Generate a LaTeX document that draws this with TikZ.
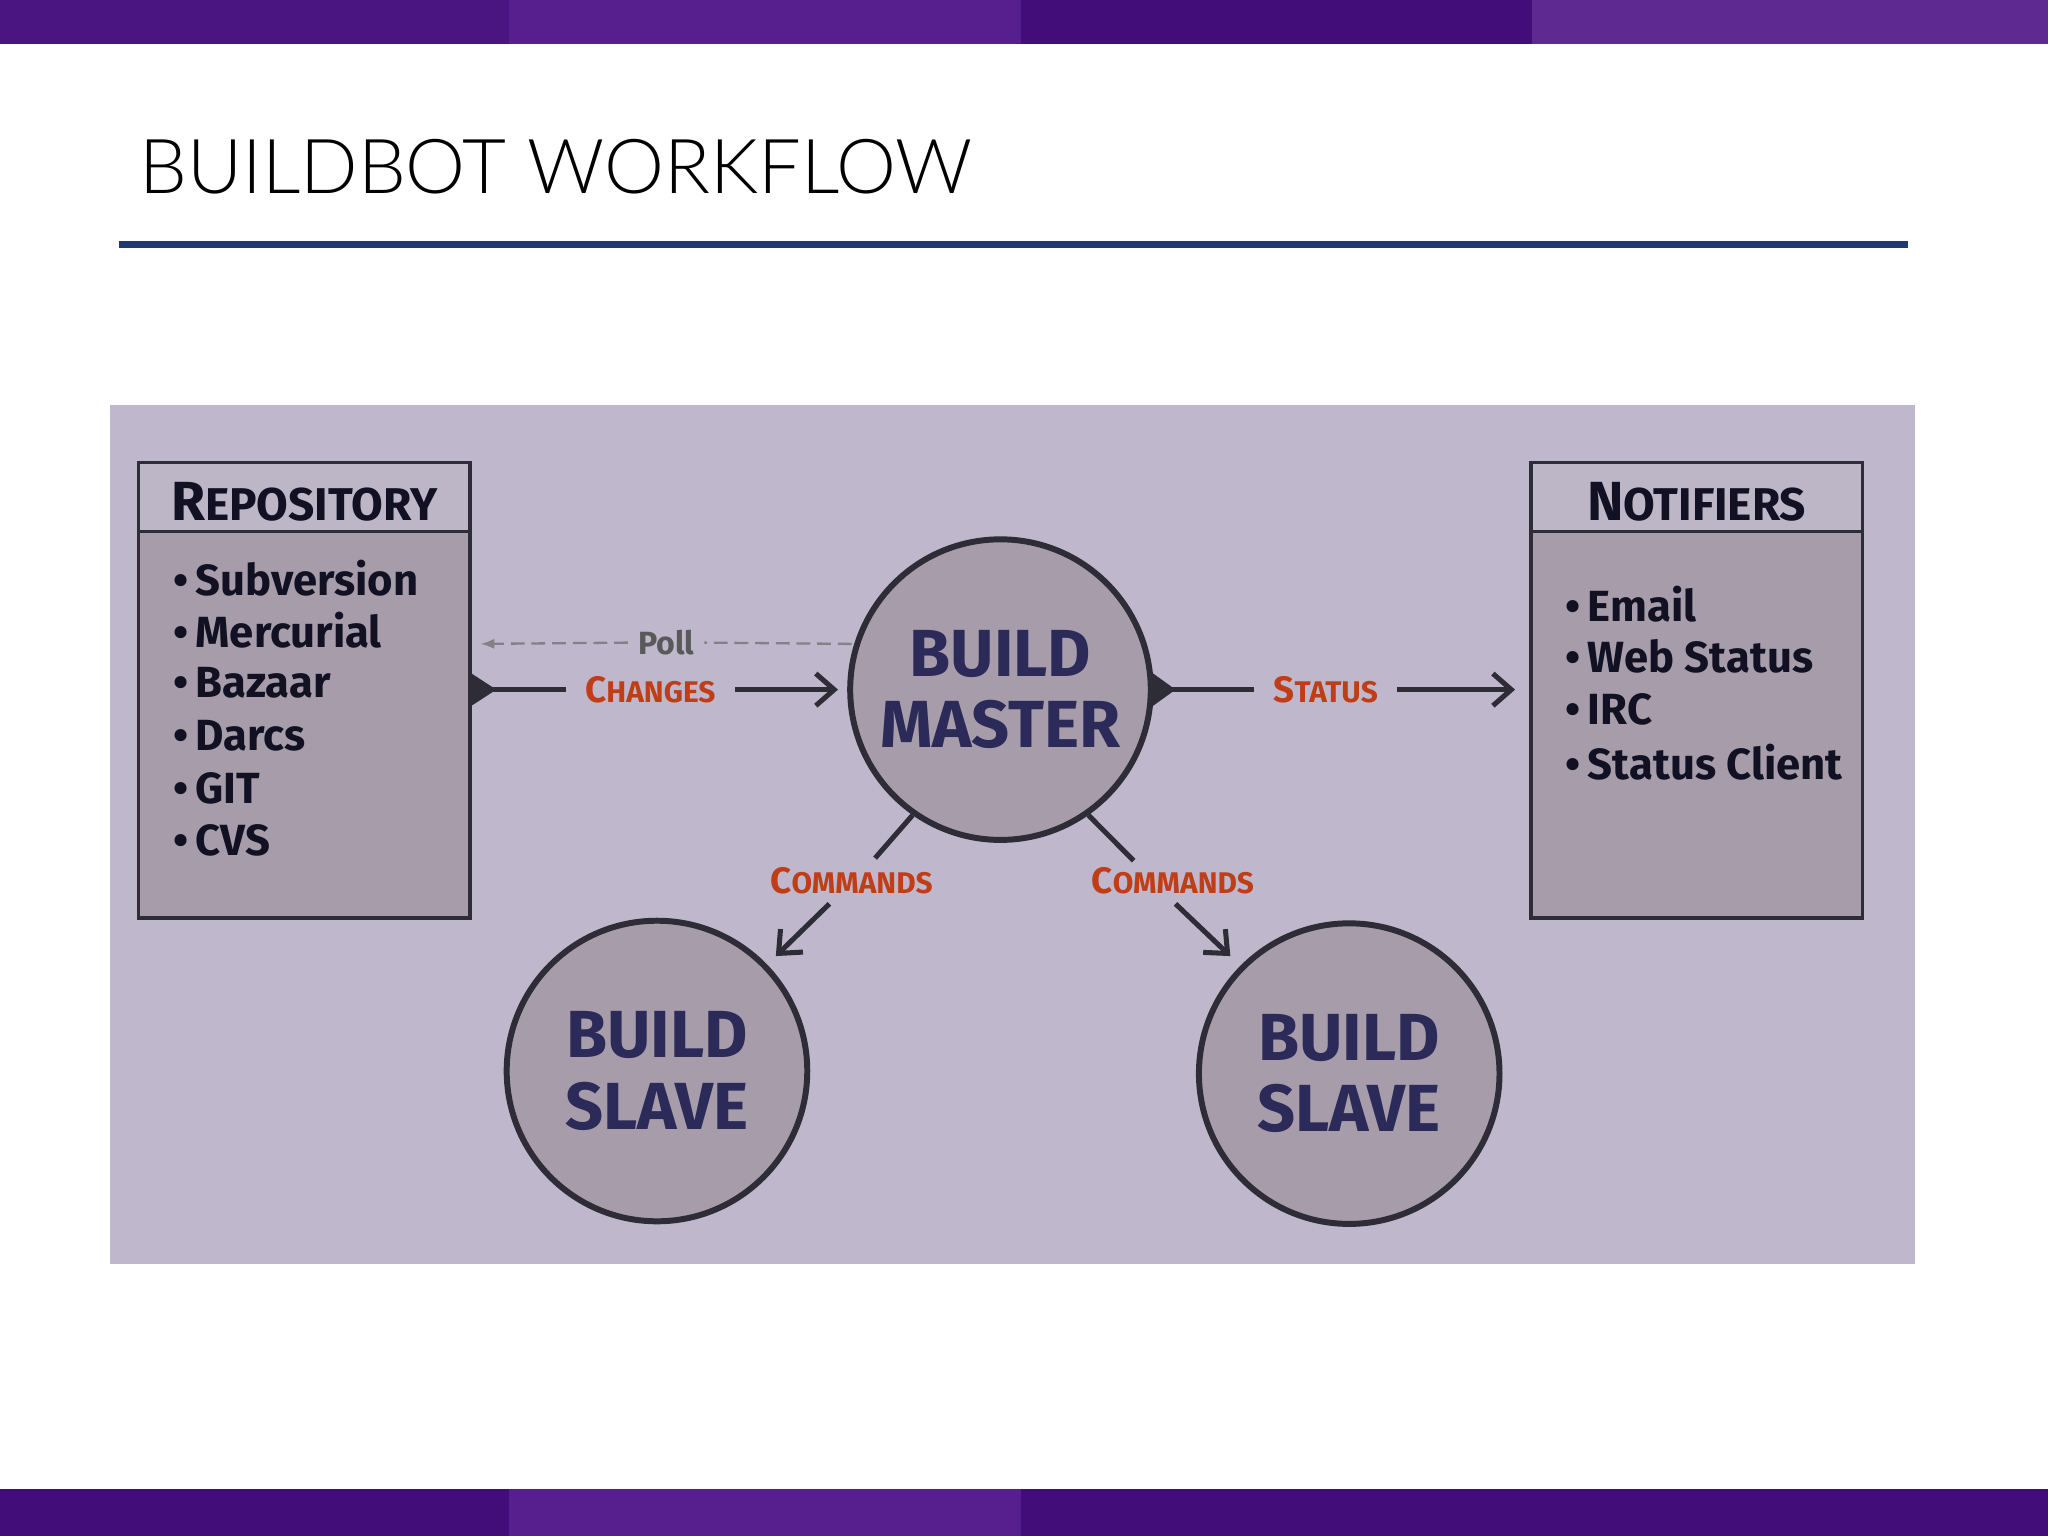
\documentclass[tikz,border=0pt]{standalone}
\usepackage{fontspec}
\setmainfont{Fira Sans}
\newfontfamily\titlefont{Lato Light}
\usetikzlibrary{arrows.meta}
\definecolor{barA}{HTML}{4A1580}
\definecolor{barB}{HTML}{571F8E}
\definecolor{barC}{HTML}{420D78}
\definecolor{barD}{HTML}{5E2A92}
\definecolor{navy}{HTML}{1F3A6E}
\definecolor{panel}{HTML}{BFB8CC}
\definecolor{boxf}{HTML}{A79DAA}
\definecolor{boxh}{HTML}{BDB6C7}
\definecolor{edge}{HTML}{2E2C36}
\definecolor{ink}{HTML}{2B2A58}
\definecolor{lab}{HTML}{BF3E18}
\tikzset{
 circ/.style={circle,draw=edge,line width=1.3pt,fill=boxf,minimum size=2.3cm,inner sep=0,align=center,text=ink,font=\fontsize{14.5}{15.5}\selectfont\bfseries},
 lbl/.style={text=lab,font=\fontsize{8}{8}\selectfont\bfseries,inner sep=4pt},
 ln/.style={draw=edge,line width=1.1pt},
 arr/.style={ln,-{Straight Barb[length=4pt,width=7pt]}},
 item/.style={anchor=west,text=ink!40!black,font=\fontsize{9.5}{9.5}\selectfont\bfseries,inner sep=0},
 head/.style={text=ink!40!black,font=\fontsize{12}{12}\selectfont\bfseries}
}
\begin{document}
\begin{tikzpicture}[x=0.01cm,y=-0.01cm]
\useasboundingbox (0,0) rectangle (1568,1176);
\fill[white] (0,0) rectangle (1568,1176);
% bars
\fill[barA] (0,0) rectangle (390,34); \fill[barB] (390,0) rectangle (782,34);
\fill[barC] (782,0) rectangle (1173,34); \fill[barD] (1173,0) rectangle (1568,34);
\fill[barC] (0,1140) rectangle (390,1176); \fill[barB] (390,1140) rectangle (782,1176);
\fill[barC] (782,1140) rectangle (1173,1176); \fill[barC] (1173,1140) rectangle (1568,1176);
\node[anchor=west,inner sep=0,font=\titlefont\fontsize{16.5}{16.5}\selectfont] (title) at (106,128) {BUILDBOT WORKFLOW};
\draw[navy,line width=1.6pt] (91,187) -- (1461,187);
% panel
\fill[panel] (84,310) rectangle (1466,968);
% repository
\draw[edge,line width=0.8pt,fill=boxf] (106,354) rectangle (360,703);
\draw[edge,line width=0.8pt,fill=boxh] (106,354) rectangle (360,407);
\node[head] (rh) at (233,384) {R\fontsize{10}{10}\selectfont EPOSITORY};
\foreach \t [count=\i] in {Subversion,Mercurial,Bazaar,Darcs,GIT,CVS}
  \node[item] (r\i) at (132,402+40.3*\i) {\textbullet\,\t};
% notifiers
\draw[edge,line width=0.8pt,fill=boxf] (1172,354) rectangle (1426,703);
\draw[edge,line width=0.8pt,fill=boxh] (1172,354) rectangle (1426,407);
\node[head] (nh) at (1299,384) {N\fontsize{10}{10}\selectfont OTIFIERS};
\foreach \t [count=\i] in {Email,Web Status,IRC,Status Client}
  \node[item] (n\i) at (1198,422+40.3*\i) {\textbullet\,\t};
% circles
\node[circ] (master) at (766,528) {BUILD\\MASTER};
\node[circ] (slave1) at (503,820) {BUILD\\SLAVE};
\node[circ] (slave2) at (1033,822) {BUILD\\SLAVE};
% connectors
\coordinate (rp) at (360,528);
\coordinate (np) at (1160,528);
\fill[edge] (360,515) -- (380,528) -- (360,541) -- cycle;
\fill[edge] (882,515) -- (900,528) -- (882,541) -- cycle;
\node[lbl] (chg) at (498,528) {C\fontsize{6.5}{6.5}\selectfont HANGES};
\draw[ln] (rp) -- (chg.west);
\draw[arr] (chg.east) -- ([xshift=-2]master.west);
\node[lbl,text=gray!70!black,font=\fontsize{7}{7}\selectfont\bfseries,inner sep=2pt] (poll) at (510,492) {Poll};
\draw[edge!60,dashed,dash pattern=on 3pt off 1.5pt,line width=0.5pt] (652,493) -- (poll.east);
\draw[edge!60,dashed,dash pattern=on 3pt off 1.5pt,line width=0.5pt,-{Latex[length=3pt]}] (poll.west) -- (368,493);
\node[lbl] (st) at (1015,528) {S\fontsize{6.5}{6.5}\selectfont TATUS};
\draw[ln] (master.east) -- (st.west);
\draw[arr] (st.east) -- (np);
\node[lbl] (c1) at (652,674) {C\fontsize{6.5}{6.5}\selectfont OMMANDS};
\node[lbl] (c2) at (898,674) {C\fontsize{6.5}{6.5}\selectfont OMMANDS};
\draw[ln] (master.235) -- (670,657);
\draw[arr] (635,692) -- (594,732);
\draw[ln] (master.305) -- (868,659);
\draw[arr] (900,692) -- (942,732);
\end{tikzpicture}
\end{document}
